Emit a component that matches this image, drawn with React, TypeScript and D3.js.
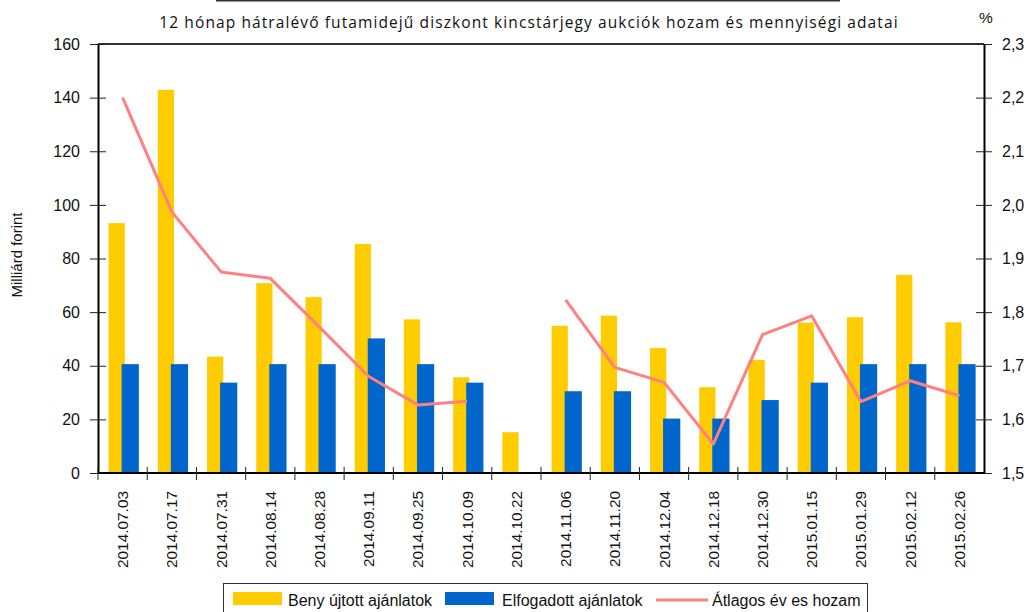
import React, { useEffect, useRef } from 'react';
import * as d3 from 'd3';

// Auction dates
const dates = [
  '2014.07.03', '2014.07.17', '2014.07.31', '2014.08.14', '2014.08.28', '2014.09.11',
  '2014.09.25', '2014.10.09', '2014.10.22', '2014.11.06', '2014.11.20', '2014.12.04',
  '2014.12.18', '2014.12.30', '2015.01.15', '2015.01.29', '2015.02.12', '2015.02.26',
];

// Benyújtott ajánlatok (Mrd Ft)
const submitted = [93.2, 142.9, 43.4, 70.8, 65.6, 85.4, 57.3, 35.7, 15.2, 54.9, 58.7, 46.6, 32, 42.2, 56.1, 58.1, 73.9, 56.2];
// Elfogadott ajánlatok (Mrd Ft)
const accepted = [40.6, 40.6, 33.7, 40.6, 40.6, 50.2, 40.6, 33.7, 0, 30.5, 30.5, 20.3, 20.3, 27.2, 33.7, 40.6, 40.6, 40.6];
// Átlagos éves hozam (%)
const avgYield: (number | null)[] = [2.2, 1.987, 1.875, 1.863, 1.772, 1.68, 1.627, 1.634, null, 1.823, 1.697, 1.669, 1.554, 1.758, 1.793, 1.633, 1.672, 1.644];

const leftTicks = [0, 20, 40, 60, 80, 100, 120, 140, 160];
const rightTicks = [1.5, 1.6, 1.7, 1.8, 1.9, 2.0, 2.1, 2.2, 2.3];

const title = '12 hónap hátralévő futamidejű diszkont kincstárjegy aukciók hozam és mennyiségi adatai';
const legendLabels = ['Beny újtott ajánlatok', 'Elfogadott ajánlatok', 'Átlagos év es hozam'];

const YELLOW = '#FFCC00';
const BLUE = '#0066CC';
const PINK = '#FF8080';

const App = () => {
  const ref = useRef<SVGSVGElement>(null);

  useEffect(() => {
    const width = 1027;
    const height = 612;
    const margin = { top: 44, right: 43, bottom: 139, left: 98 };
    const innerW = width - margin.left - margin.right;
    const innerH = height - margin.top - margin.bottom;
    const font = '"Liberation Sans", Arial, sans-serif';

    const svg = d3.select(ref.current);
    svg.selectAll('*').remove();

    // line above title
    svg.append('line')
      .attr('x1', 216).attr('x2', 840).attr('y1', 0.5).attr('y2', 0.5)
      .attr('stroke', '#333').attr('stroke-width', 2);

    svg.append('text')
      .attr('x', 529).attr('y', 28)
      .attr('text-anchor', 'middle')
      .attr('font-family', '"Open Sans", sans-serif')
      .attr('font-size', 15.5)
      .attr('letter-spacing', 1.1)
      .attr('fill', '#111')
      .text(title);

    svg.append('text')
      .attr('x', 986).attr('y', 23)
      .attr('text-anchor', 'middle')
      .attr('font-family', font)
      .attr('font-size', 15.5)
      .attr('fill', '#111')
      .text('%');

    const g = svg.append('g').attr('transform', `translate(${margin.left},${margin.top})`);

    const x = d3.scaleBand().domain(dates).range([0, innerW]).paddingInner(0).paddingOuter(0);
    const yL = d3.scaleLinear().domain([0, 160]).range([innerH, 0]);
    const yR = d3.scaleLinear().domain([1.5, 2.3]).range([innerH, 0]);
    const bw = x.bandwidth();

    // bars
    g.selectAll('rect.sub')
      .data(submitted)
      .enter()
      .append('rect')
      .attr('class', 'sub')
      .attr('x', (_, i) => (x(dates[i]) as number) + bw * 0.215)
      .attr('y', d => yL(d))
      .attr('width', bw * 0.33)
      .attr('height', d => innerH - yL(d))
      .attr('fill', YELLOW);

    g.selectAll('rect.acc')
      .data(accepted)
      .enter()
      .append('rect')
      .attr('class', 'acc')
      .attr('x', (_, i) => (x(dates[i]) as number) + bw * 0.48)
      .attr('y', d => yL(d))
      .attr('width', bw * 0.35)
      .attr('height', d => innerH - yL(d))
      .attr('fill', BLUE);

    // yield line (gap where missing)
    const line = d3.line<number | null>()
      .defined(d => d !== null)
      .x((_, i) => (x(dates[i]) as number) + bw / 2)
      .y(d => yR(d as number));

    g.append('path')
      .datum(avgYield)
      .attr('d', line)
      .attr('fill', 'none')
      .attr('stroke', PINK)
      .attr('stroke-width', 3)
      .attr('stroke-linejoin', 'round');

    // frame
    g.append('line').attr('x1', 0).attr('x2', innerW).attr('y1', 0).attr('y2', 0)
      .attr('stroke', '#333').attr('stroke-width', 2);

    // left axis
    const leftAxis = g.append('g')
      .call(d3.axisLeft(yL).tickValues(leftTicks).tickSize(8).tickSizeOuter(0).tickFormat(d3.format('d')));
    leftAxis.select('.domain').attr('stroke', '#000').attr('stroke-width', 2);
    leftAxis.selectAll('.tick line').attr('x2', 8).attr('x1', -8).attr('stroke', '#222');
    leftAxis.selectAll('.tick text').attr('x', -18).attr('font-size', 16).attr('font-family', font).attr('fill', '#111');

    // right axis
    const rightAxis = g.append('g')
      .attr('transform', `translate(${innerW},0)`)
      .call(d3.axisRight(yR).tickValues(rightTicks).tickSize(8).tickSizeOuter(0)
        .tickFormat(d => d3.format('.1f')(d as number).replace('.', ',')));
    rightAxis.select('.domain').attr('stroke', '#000').attr('stroke-width', 2);
    rightAxis.selectAll('.tick line').attr('x1', -8).attr('x2', 8).attr('stroke', '#222');
    rightAxis.selectAll('.tick text').attr('x', 18).attr('font-size', 16).attr('font-family', font).attr('fill', '#111');

    // bottom axis: ticks at category boundaries
    const bottom = g.append('g').attr('transform', `translate(0,${innerH})`);
    bottom.append('line').attr('x1', 0).attr('x2', innerW).attr('stroke', '#000').attr('stroke-width', 2);
    bottom.selectAll('line.tk')
      .data(dates)
      .enter()
      .append('line')
      .attr('class', 'tk')
      .attr('x1', d => x(d) as number).attr('x2', d => x(d) as number)
      .attr('y1', -6).attr('y2', 7)
      .attr('stroke', '#222');
    bottom.selectAll('text')
      .data(dates)
      .enter()
      .append('text')
      .attr('transform', d => `translate(${(x(d) as number) + bw / 2 + 5.5},18) rotate(-90)`)
      .attr('text-anchor', 'end')
      .attr('font-family', font)
      .attr('font-size', 15.4)
      .attr('fill', '#111')
      .text(d => d);

    // y axis title
    svg.append('text')
      .attr('transform', 'translate(22,255) rotate(-90)')
      .attr('text-anchor', 'middle')
      .attr('font-family', font)
      .attr('font-size', 15)
      .attr('fill', '#111')
      .text('Milliárd forint');

    // legend
    const lg = svg.append('g');
    lg.append('rect')
      .attr('x', 223.5).attr('y', 583.5).attr('width', 644).attr('height', 40)
      .attr('fill', '#fff').attr('stroke', '#333');
    const items = [
      { x: 233, tx: 288, color: YELLOW, type: 'rect' },
      { x: 445, tx: 502, color: BLUE, type: 'rect' },
      { x: 656, tx: 712, color: PINK, type: 'line' },
    ];
    items.forEach((it, i) => {
      if (it.type === 'rect') {
        lg.append('rect').attr('x', it.x).attr('y', 592).attr('width', 49).attr('height', 13).attr('fill', it.color);
      } else {
        lg.append('line').attr('x1', it.x).attr('x2', it.x + 52).attr('y1', 600).attr('y2', 600)
          .attr('stroke', it.color).attr('stroke-width', 3);
      }
      lg.append('text')
        .attr('x', it.tx).attr('y', 606)
        .attr('font-family', font)
        .attr('font-size', 16)
        .attr('fill', '#111')
        .text(legendLabels[i]);
    });
  }, []);

  return (
    <svg
      ref={ref}
      width={1027}
      height={612}
      style={{ position: 'absolute', left: 0, top: 0, background: '#fff' }}
    />
  );
};

export default App;
